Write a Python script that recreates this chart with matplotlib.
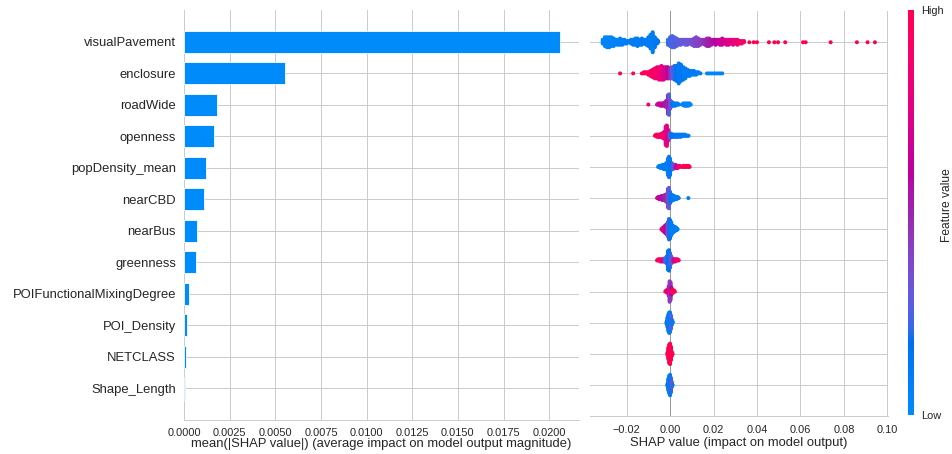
import numpy as np
import matplotlib
matplotlib.use("Agg")
import matplotlib.pyplot as plt
from matplotlib.colors import LinearSegmentedColormap, Normalize
from matplotlib.cm import ScalarMappable

# ---------------------------------------------------------------- data
features = ["visualPavement", "enclosure", "roadWide", "openness",
            "popDensity_mean", "nearCBD", "nearBus", "greenness",
            "POIFunctionalMixingDegree", "POI_Density", "NETCLASS",
            "Shape_Length"]

mean_abs_shap = [0.0206, 0.00553, 0.00183, 0.00163, 0.00120, 0.00112,
                 0.00070, 0.00065, 0.00026, 0.00017, 0.00011, 0.00008]

# beeswarm samples: (SHAP value, number of samples, scaled feature value)
visualPavement_pts = [
    (-0.0310, 4, 0.05), (-0.0300, 8, 0.04), (-0.0290, 9, 0.05), (-0.0280, 9, 0.06),
    (-0.0270, 8, 0.05), (-0.0260, 7, 0.06), (-0.0250, 5, 0.05), (-0.0240, 5, 0.07),
    (-0.0230, 6, 0.06), (-0.0220, 5, 0.08), (-0.0210, 4, 0.08), (-0.0200, 3, 0.10),
    (-0.0190, 2, 0.10),
    (-0.0180, 4, 0.08), (-0.0170, 5, 0.10), (-0.0160, 6, 0.10), (-0.0150, 7, 0.10),
    (-0.0140, 5, 0.10), (-0.0130, 6, 0.12), (-0.0120, 4, 0.12), (-0.0110, 5, 0.12),
    (-0.0100, 8, 0.12), (-0.0090, 12, 0.10), (-0.0080, 17, 0.10), (-0.0070, 9, 0.12),
    (-0.0060, 4, 0.15), (-0.0055, 2, 0.15),
    (-0.0010, 5, 0.22), (0.0000, 8, 0.22), (0.0010, 10, 0.25), (0.0020, 9, 0.25),
    (0.0030, 7, 0.28), (0.0040, 5, 0.28), (0.0050, 5, 0.30), (0.0060, 4, 0.30),
    (0.0070, 5, 0.32), (0.0080, 5, 0.32), (0.0090, 4, 0.35), (0.0100, 5, 0.35),
    (0.0110, 7, 0.38), (0.0120, 8, 0.40), (0.0130, 7, 0.40), (0.0140, 5, 0.42),
    (0.0150, 4, 0.45), (0.0160, 5, 0.48), (0.0170, 7, 0.50), (0.0180, 7, 0.52),
    (0.0190, 5, 0.55), (0.0200, 4, 0.58), (0.0210, 5, 0.60), (0.0220, 4, 0.62),
    (0.0230, 5, 0.65), (0.0240, 6, 0.68), (0.0250, 4, 0.70), (0.0260, 5, 0.72),
    (0.0270, 5, 0.75), (0.0280, 4, 0.78), (0.0290, 5, 0.80), (0.0300, 4, 0.82),
    (0.0310, 5, 0.85), (0.0320, 3, 0.88), (0.0330, 3, 0.90), (0.0340, 2, 0.92),
    (0.0365, 1, 1.0), (0.0385, 1, 1.0), (0.0400, 1, 1.0), (0.0455, 1, 1.0),
    (0.0480, 1, 1.0), (0.0497, 1, 1.0), (0.0530, 1, 1.0), (0.0612, 1, 1.0),
    (0.0624, 1, 1.0), (0.0739, 1, 1.0), (0.0860, 1, 1.0), (0.0909, 1, 1.0),
    (0.0943, 1, 1.0),
]

enclosure_pts = [
    (-0.0230, 1, 1.0), (-0.0170, 1, 1.0), (-0.0130, 1, 1.0), (-0.0120, 2, 0.98),
    (-0.0110, 2, 0.98), (-0.0100, 3, 0.95), (-0.0090, 5, 0.95), (-0.0080, 7, 0.92),
    (-0.0070, 9, 0.90), (-0.0060, 10, 0.88), (-0.0050, 11, 0.85), (-0.0040, 12, 0.80),
    (-0.0030, 11, 0.75), (-0.0020, 10, 0.70), (-0.0010, 10, 0.60), (0.0000, 9, 0.45),
    (0.0010, 10, 0.30), (0.0020, 12, 0.20), (0.0030, 13, 0.15), (0.0040, 17, 0.12),
    (0.0050, 14, 0.12), (0.0060, 11, 0.12), (0.0070, 9, 0.10), (0.0080, 6, 0.10),
    (0.0090, 5, 0.10), (0.0100, 4, 0.10), (0.0110, 4, 0.10), (0.0120, 3, 0.10),
    (0.0130, 2, 0.10), (0.0140, 1, 0.10),
    (0.0170, 1, 0.05), (0.0180, 1, 0.05), (0.0190, 1, 0.05), (0.0200, 1, 0.05),
    (0.0210, 1, 0.05), (0.0220, 1, 0.05), (0.0230, 1, 0.05), (0.0240, 1, 0.05),
]

roadWide_pts = [
    (-0.0100, 1, 0.95),
    (-0.0060, 1, 0.70), (-0.0055, 2, 0.75), (-0.0050, 2, 0.60), (-0.0045, 3, 0.70),
    (-0.0040, 3, 0.60), (-0.0035, 3, 0.65), (-0.0030, 3, 0.60), (-0.0025, 4, 0.55),
    (-0.0020, 6, 0.55), (-0.0015, 8, 0.50), (-0.0010, 19, 0.50), (-0.0005, 10, 0.55),
    (-0.0005, 11, 0.25), (0.0000, 9, 0.40), (0.0005, 6, 0.30), (0.0010, 4, 0.20),
    (0.0015, 3, 0.15), (0.0020, 3, 0.10), (0.0025, 3, 0.10), (0.0030, 2, 0.10),
    (0.0035, 2, 0.10), (0.0040, 1, 0.10),
    (0.0055, 1, 0.10), (0.0060, 2, 0.05), (0.0065, 3, 0.05), (0.0070, 3, 0.05),
    (0.0075, 3, 0.05), (0.0080, 3, 0.05), (0.0085, 3, 0.05), (0.0090, 2, 0.05),
    (0.0095, 1, 0.05),
]

openness_pts = [
    (-0.0070, 1, 0.95), (-0.0065, 2, 0.95), (-0.0060, 3, 0.95), (-0.0055, 3, 0.95),
    (-0.0050, 3, 0.90), (-0.0045, 3, 0.95), (-0.0040, 4, 0.90), (-0.0035, 5, 0.90),
    (-0.0030, 6, 0.90), (-0.0025, 8, 0.85), (-0.0020, 19, 0.85), (-0.0015, 21, 0.80),
    (-0.0010, 12, 0.70), (-0.0005, 7, 0.50), (0.0000, 5, 0.30), (0.0005, 4, 0.20),
    (0.0010, 3, 0.15), (0.0015, 3, 0.15), (0.0020, 3, 0.10), (0.0025, 3, 0.15),
    (0.0030, 3, 0.10), (0.0035, 3, 0.20), (0.0040, 3, 0.10), (0.0045, 2, 0.10),
    (0.0050, 3, 0.15), (0.0055, 2, 0.10), (0.0060, 2, 0.10), (0.0065, 2, 0.10),
    (0.0070, 2, 0.10), (0.0075, 1, 0.10), (0.0080, 1, 0.10), (0.0085, 1, 0.10),
]

popDensity_mean_pts = [
    (-0.0055, 1, 0.10), (-0.0050, 2, 0.10), (-0.0045, 3, 0.10), (-0.0040, 3, 0.10),
    (-0.0035, 4, 0.10), (-0.0030, 5, 0.10), (-0.0025, 5, 0.10), (-0.0020, 6, 0.10),
    (-0.0015, 8, 0.10), (-0.0010, 17, 0.10), (-0.0005, 21, 0.10), (0.0000, 17, 0.12),
    (0.0005, 8, 0.15), (0.0010, 6, 0.20), (0.0015, 5, 0.25), (0.0020, 4, 0.35),
    (0.0025, 4, 0.50), (0.0030, 3, 0.60), (0.0035, 3, 0.75), (0.0040, 2, 0.85),
    (0.0045, 2, 0.90),
    (0.0055, 1, 1.0), (0.0060, 2, 1.0), (0.0065, 2, 1.0), (0.0070, 2, 1.0),
    (0.0075, 2, 1.0), (0.0080, 2, 1.0), (0.0085, 2, 1.0), (0.0090, 1, 1.0),
]

nearCBD_pts = [
    (-0.0060, 1, 0.75), (-0.0055, 2, 0.70), (-0.0050, 3, 0.60), (-0.0045, 3, 0.65),
    (-0.0040, 4, 0.60), (-0.0035, 5, 0.55), (-0.0030, 5, 0.55), (-0.0025, 6, 0.50),
    (-0.0020, 7, 0.50), (-0.0015, 9, 0.45), (-0.0010, 19, 0.40), (-0.0005, 21, 0.30),
    (0.0000, 12, 0.20), (0.0005, 7, 0.15), (0.0010, 6, 0.15), (0.0015, 5, 0.10),
    (0.0020, 4, 0.10), (0.0025, 3, 0.10), (0.0030, 3, 0.10), (0.0035, 2, 0.10),
    (0.0040, 1, 0.10), (0.0084, 1, 0.10),
]

nearBus_pts = [
    (-0.0040, 1, 0.85), (-0.0035, 3, 0.80), (-0.0030, 5, 0.75), (-0.0025, 7, 0.70),
    (-0.0020, 9, 0.60), (-0.0015, 11, 0.50), (-0.0010, 15, 0.35), (-0.0005, 21, 0.20),
    (0.0000, 19, 0.15), (0.0005, 14, 0.10), (0.0010, 9, 0.10), (0.0015, 7, 0.10),
    (0.0020, 5, 0.10), (0.0025, 4, 0.10), (0.0030, 3, 0.10), (0.0035, 1, 0.10),
]

greenness_pts = [
    (-0.0060, 1, 1.0), (-0.0055, 2, 1.0), (-0.0050, 2, 1.0), (-0.0045, 3, 0.95),
    (-0.0040, 3, 0.90), (-0.0035, 3, 0.80), (-0.0030, 3, 0.60), (-0.0025, 4, 0.40),
    (-0.0020, 5, 0.30), (-0.0015, 8, 0.20), (-0.0010, 19, 0.15), (-0.0005, 21, 0.15),
    (0.0000, 15, 0.20), (0.0005, 8, 0.25), (0.0010, 5, 0.35), (0.0015, 3, 0.50),
    (0.0020, 3, 0.70), (0.0025, 3, 0.80), (0.0030, 2, 0.85), (0.0035, 2, 0.90),
    (0.0040, 1, 0.90),
]

POIFunctionalMixingDegree_pts = [
    (-0.0022, 1, 1.0), (-0.0018, 2, 1.0), (-0.0014, 3, 0.95), (-0.0010, 4, 0.90),
    (-0.0006, 10, 0.60), (-0.0002, 5, 0.95), (-0.0002, 16, 0.40), (0.0002, 4, 0.90),
    (0.0002, 14, 0.45), (0.0006, 8, 0.60), (0.0010, 4, 0.90), (0.0014, 3, 0.95),
    (0.0018, 2, 1.0), (0.0022, 1, 1.0),
]

POI_Density_pts = [
    (-0.0016, 3, 0.20), (-0.0012, 10, 0.15), (-0.0008, 17, 0.10), (-0.0004, 21, 0.10),
    (0.0000, 20, 0.10), (0.0004, 14, 0.25), (0.0008, 6, 0.20), (0.0012, 2, 0.10),
]

NETCLASS_pts = [
    (0.0000, 1, 0.10), (-0.0012, 3, 1.0), (-0.0008, 12, 1.0), (-0.0004, 19, 1.0),
    (0.0000, 20, 0.95), (0.0004, 14, 1.0), (0.0008, 5, 1.0), (0.0012, 1, 1.0),
]

Shape_Length_pts = [
    (-0.0012, 3, 0.20), (-0.0008, 12, 0.15), (-0.0004, 18, 0.10), (0.0000, 21, 0.12),
    (0.0004, 15, 0.20), (0.0008, 6, 0.35), (0.0012, 1, 0.10),
]

swarm_rows = [visualPavement_pts, enclosure_pts, roadWide_pts, openness_pts,
              popDensity_mean_pts, nearCBD_pts, nearBus_pts, greenness_pts,
              POIFunctionalMixingDegree_pts, POI_Density_pts, NETCLASS_pts,
              Shape_Length_pts]


# ------------------------------------------------------- colour map (LCh)
def lch2rgb(l, c, h):
    a, b = c * np.cos(h), c * np.sin(h)
    fy = (l + 16.0) / 116.0
    f = np.array([fy + a / 500.0, fy, fy - b / 200.0])
    xyz = np.where(f > 0.2068966, f ** 3, (f - 16.0 / 116.0) / 7.787)
    xyz = xyz * np.array([0.95047, 1.0, 1.08883])
    m = np.array([[3.2406, -1.5372, -0.4986],
                  [-0.9689, 1.8758, 0.0415],
                  [0.0557, -0.2040, 1.0570]])
    rgb = m @ xyz
    rgb = np.where(rgb > 0.0031308,
                   1.055 * np.power(np.clip(rgb, 1e-12, None), 1 / 2.4) - 0.055,
                   12.92 * rgb)
    return np.clip(rgb, 0, 1)


nsteps = 100
blue_lch = (54.0, 70.0, 4.6588)
red_lch = (54.0, 90.0, 0.35470565 + 2 * np.pi)
l_vals = list(np.linspace(blue_lch[0], 40.0, nsteps // 2)) + \
    list(np.linspace(40.0, red_lch[0], nsteps // 2))
c_vals = np.linspace(blue_lch[1], red_lch[1], nsteps)
h_vals = np.linspace(blue_lch[2], red_lch[2], nsteps)
cmap_colors = [lch2rgb(l, c, h) for l, c, h in zip(l_vals, c_vals, h_vals)]
red_blue = LinearSegmentedColormap.from_list("red_blue", cmap_colors)


def swarm(entries, row_height=0.4):
    """Stack samples with equal SHAP value centre-out, like a beeswarm."""
    stacks, order = {}, []
    for v, n, c in entries:
        key = round(v, 7)
        if key not in stacks:
            stacks[key] = []
            order.append(key)
        stacks[key].extend([c] * n)
    xs, ys, cs = [], [], []
    for key in order:
        for layer, c in enumerate(stacks[key]):
            xs.append(key)
            cs.append(c)
            ys.append(np.ceil(layer / 2) * ((layer % 2) * 2 - 1))
    ys = np.array(ys, float)
    ys *= 0.9 * (row_height / np.max(ys + 1))
    return np.array(xs), ys, np.array(cs)


# ---------------------------------------------------------------- figure
plt.rcParams['font.family'] = ['Liberation Sans', 'DejaVu Sans']
TXT = '#262626'
GRID = '#cccccc'
W, H = 952, 454
fig = plt.figure(figsize=(W / 72, H / 72), dpi=72)


def box(l, t, r, b):
    return [l / W, 1 - b / H, (r - l) / W, (b - t) / H]


ax1 = fig.add_axes(box(184, 10.2, 579, 420))
ax2 = fig.add_axes(box(589.7, 11.1, 888.2, 416.2))
cax = fig.add_axes(box(908, 10, 914, 415))

n = len(features)
ypos = np.arange(n)[::-1]

for ax in (ax1, ax2):
    ax.set_ylim(-1, n)
    ax.set_yticks(ypos)
    ax.grid(True, color=GRID, linewidth=1)
    ax.set_axisbelow(True)
    for s in ("top", "right", "left"):
        ax.spines[s].set_visible(False)
    ax.spines["bottom"].set_color(GRID)
    ax.spines["bottom"].set_linewidth(1)
    ax.tick_params(length=0, labelsize=11, colors=TXT)

# mean |SHAP| bars
ax1.barh(ypos, mean_abs_shap, 0.7, color='#008bfb', edgecolor='white',
         linewidth=0.8, zorder=2)
ax1.set_xlim(0, 0.02163)
ax1.set_xticks(np.arange(0, 0.02001, 0.0025))
ax1.set_yticklabels(features)
ax1.tick_params(axis='y', labelsize=13, pad=8)
ax1.tick_params(axis='x', pad=8)
ax1.set_xlabel("mean(|SHAP value|) (average impact on model output magnitude)",
               fontsize=13, color=TXT, labelpad=0)

# beeswarm
ax2.set_xlim(-0.0370, 0.1004)
ax2.set_xticks(np.arange(-0.02, 0.1001, 0.02))
ax2.set_yticklabels([])
ax2.tick_params(axis='x', pad=9)
ax2.axvline(0, color='#999999', linewidth=1, zorder=1)
for pos, entries in zip(ypos, swarm_rows):
    xs, ys, cs = swarm(entries)
    ax2.scatter(xs, pos + ys, c=cs, cmap=red_blue, vmin=0, vmax=1, s=16,
                linewidths=0, zorder=3)
ax2.set_xlabel("SHAP value (impact on model output)", fontsize=13, color=TXT,
               labelpad=2)

# colour bar
sm = ScalarMappable(norm=Normalize(0, 1), cmap=red_blue)
cb = fig.colorbar(sm, cax=cax, ticks=[0, 1])
cb.set_ticklabels(["Low", "High"])
cb.outline.set_visible(False)
cax.tick_params(length=0, labelsize=11, pad=7.5, colors=TXT)
fig.text(947 / W, 1 - 205 / H, "Feature value", rotation=90, fontsize=12,
         color=TXT, ha='center', va='center')

fig.savefig("out.png", dpi=72, facecolor='white')
